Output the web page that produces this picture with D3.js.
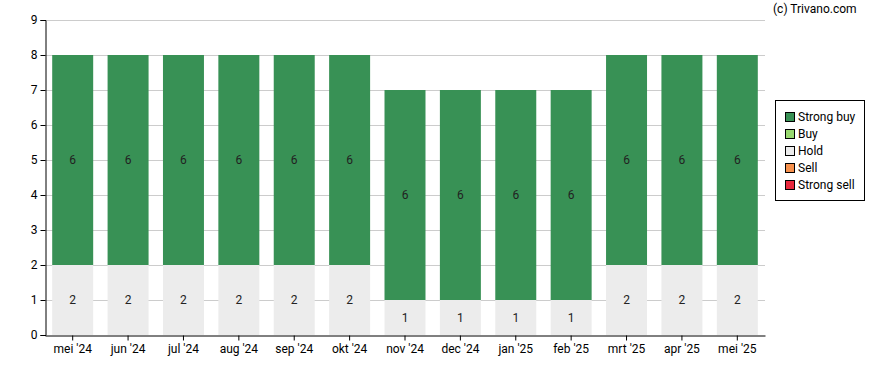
<!DOCTYPE html>
<html>
<head>
<meta charset="utf-8">
<script src="https://cdn.jsdelivr.net/npm/d3@7"></script>
<style>
  body { margin: 0; background: #fff; }
  svg { font-family: Roboto, "Noto Sans", sans-serif; }
</style>
</head>
<body>
<script>
var months = ["mei '24", "jun '24", "jul '24", "aug '24", "sep '24", "okt '24", "nov '24", "dec '24", "jan '25", "feb '25", "mrt '25", "apr '25", "mei '25"];
var strongBuy = [6, 6, 6, 6, 6, 6, 6, 6, 6, 6, 6, 6, 6];
var buy = [0, 0, 0, 0, 0, 0, 0, 0, 0, 0, 0, 0, 0];
var hold = [2, 2, 2, 2, 2, 2, 1, 1, 1, 1, 2, 2, 2];
var sell = [0, 0, 0, 0, 0, 0, 0, 0, 0, 0, 0, 0, 0];
var strongSell = [0, 0, 0, 0, 0, 0, 0, 0, 0, 0, 0, 0, 0];
var seriesNames = ["Strong buy", "Buy", "Hold", "Sell", "Strong sell"];
var seriesColors = ["#389155", "#98d86f", "#ececec", "#f7914d", "#e8293d"];
var yTicks = [0, 1, 2, 3, 4, 5, 6, 7, 8, 9];

var W = 888, H = 370;
var plotL = 45, plotR = 765, plotT = 20, plotB = 335;

var svg = d3.select("body").append("svg")
  .attr("width", W)
  .attr("height", H);

var x = d3.scaleBand().domain(months).range([plotL, plotR]).paddingInner(0.26).paddingOuter(0.13);
var y = d3.scaleLinear().domain([0, 9]).range([plotB, plotT]);

// stacking order from bottom: strong sell, sell, hold, buy, strong buy
var rows = months.map(function(m, i) {
  return { month: m, "Strong buy": strongBuy[i], "Buy": buy[i], "Hold": hold[i], "Sell": sell[i], "Strong sell": strongSell[i] };
});
var stack = d3.stack().keys(["Strong sell", "Sell", "Hold", "Buy", "Strong buy"]);
var layers = stack(rows);

// grid lines
svg.append("g").selectAll("line")
  .data(yTicks.filter(function(d) { return d > 0; }))
  .enter().append("line")
  .attr("x1", plotL).attr("x2", plotR)
  .attr("y1", function(d) { return y(d) + 0.5; })
  .attr("y2", function(d) { return y(d) + 0.5; })
  .attr("stroke", "#cccccc")
  .attr("stroke-width", 1);

var color = d3.scaleOrdinal().domain(seriesNames).range(seriesColors);

var layerG = svg.append("g").selectAll("g")
  .data(layers)
  .enter().append("g")
  .attr("fill", function(d) { return color(d.key); });

layerG.selectAll("rect")
  .data(function(d) { return d; })
  .enter().append("rect")
  .attr("x", function(d) { return x(d.data.month); })
  .attr("width", x.bandwidth())
  .attr("y", function(d) { return y(d[1]); })
  .attr("height", function(d) { return y(d[0]) - y(d[1]); });

// value labels
layerG.selectAll("text")
  .data(function(d) { return d.filter(function(p) { return p[1] - p[0] > 0; }); })
  .enter().append("text")
  .attr("x", function(d) { return x(d.data.month) + x.bandwidth() / 2; })
  .attr("y", function(d) { return y((d[0] + d[1]) / 2) + 4; })
  .attr("text-anchor", "middle")
  .attr("fill", "#222")
  .attr("font-size", 12)
  .text(function(d) { return d[1] - d[0]; });

// axes
var yAxis = d3.axisLeft(y).tickValues(yTicks).tickSize(5).tickPadding(3);
svg.append("g")
  .attr("transform", "translate(" + (plotL + 0.5) + ",0)")
  .call(yAxis)
  .call(function(g) {
    g.select(".domain").attr("stroke", "#000");
    g.selectAll("text").attr("font-size", 12).attr("font-family", "Roboto, sans-serif").attr("fill", "#000");
  });

var xAxis = d3.axisBottom(x).tickSize(5).tickSizeOuter(0).tickPadding(4);
svg.append("g")
  .attr("transform", "translate(0," + (plotB + 0.5) + ")")
  .call(xAxis)
  .call(function(g) {
    g.select(".domain").attr("stroke", "#000");
    g.selectAll("text").attr("font-size", 12).attr("font-family", "Roboto, sans-serif").attr("fill", "#000");
  });

// copyright
svg.append("text")
  .attr("x", 773).attr("y", 13)
  .attr("font-size", 12)
  .attr("fill", "#000")
  .text("(c) Trivano.com");

// legend
var legend = svg.append("g");
legend.append("rect")
  .attr("x", 775.5).attr("y", 100.5)
  .attr("width", 89).attr("height", 100)
  .attr("fill", "#fff").attr("stroke", "#000");

var item = legend.selectAll("g.item")
  .data(seriesNames)
  .enter().append("g")
  .attr("class", "item")
  .attr("transform", function(d, i) { return "translate(785," + (112 + i * 17) + ")"; });

item.append("rect")
  .attr("x", 0.5).attr("y", 0.5)
  .attr("width", 9).attr("height", 9)
  .attr("fill", function(d) { return color(d); })
  .attr("stroke", "#000");

item.append("text")
  .attr("x", 13).attr("y", 9)
  .attr("font-size", 12)
  .attr("fill", "#000")
  .text(function(d) { return d; });
</script>
</body>
</html>
